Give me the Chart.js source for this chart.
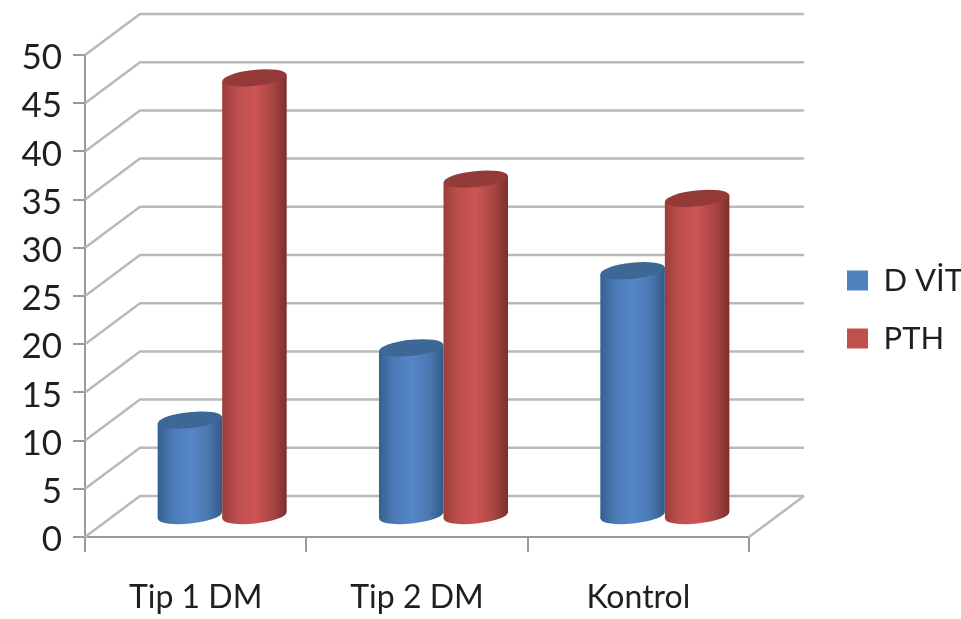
<!DOCTYPE html>
<html>
<head>
<meta charset="utf-8">
<title>D VİT / PTH</title>
<script src="https://cdn.jsdelivr.net/npm/chart.js@4"></script>
<style>
html, body { margin: 0; padding: 0; background: #fff; }
canvas { display: block; }
</style>
</head>
<body>
<canvas id="chart" width="961" height="619"></canvas>
<script>
const categories = ["Tip 1 DM", "Tip 2 DM", "Kontrol"];
const dVit = [10, 17.5, 25.5];
const pth = [45.5, 35, 33];

const GRID = "#b9b9b9";
const AXIS = "#9a9a9a";
const DEPTH_X = 55;
const DEPTH_Y = 41;
const TILT = 6 * Math.PI / 180;

const shades = {
    "D VİT": { side: ["#365f91", "#4a7ab5", "#5586c8", "#4a78b0", "#335a88"], top: "#3d6795" },
    "PTH": { side: ["#9c3d3b", "#bc4f4d", "#cd5553", "#a84543", "#7c2f2d"], top: "#943a38" }
};

// back wall, floor and the slanted lines that join them to the value axis
const wallsPlugin = {
    id: "walls",
    beforeDatasetsDraw(chart) {
        const { ctx, chartArea: a, scales: { y } } = chart;
        ctx.save();
        ctx.strokeStyle = GRID;
        ctx.lineWidth = 2.5;
        y.ticks.forEach(t => {
            const py = y.getPixelForValue(t.value);
            ctx.beginPath();
            ctx.moveTo(a.left, py);
            ctx.lineTo(a.left + DEPTH_X, py - DEPTH_Y);
            ctx.lineTo(a.right + DEPTH_X, py - DEPTH_Y);
            ctx.stroke();
        });
        const base = y.getPixelForValue(0);
        ctx.beginPath();
        ctx.moveTo(a.right + DEPTH_X, base - DEPTH_Y);
        ctx.lineTo(a.right, base);
        ctx.stroke();
        ctx.restore();
    }
};

function ellipsePath(ctx, x, y, rx) {
    ctx.ellipse(x, y, rx, 8, -TILT, 0, Math.PI * 2);
}

// bars are drawn as cylinders standing halfway into the floor
const cylinderPlugin = {
    id: "cylinders",
    beforeDatasetDraw(chart, args) {
        const { ctx } = chart;
        const colors = shades[chart.data.datasets[args.index].label];
        args.meta.data.forEach(bar => {
            const cx = bar.x + DEPTH_X / 2 - 1;
            const top = bar.y - DEPTH_Y / 2;
            const bottom = bar.base - DEPTH_Y / 2;
            const rx = bar.width / 2;
            const g = ctx.createLinearGradient(cx - rx, 0, cx + rx, 0);
            const stops = [0, 0.22, 0.5, 0.78, 1];
            stops.forEach((s, i) => g.addColorStop(s, colors.side[i]));

            const lift = rx * Math.sin(TILT);
            ctx.save();
            ctx.fillStyle = g;
            ctx.beginPath();
            ctx.moveTo(cx - rx, top + lift);
            ctx.lineTo(cx + rx, top - lift);
            ctx.lineTo(cx + rx, bottom - lift);
            ctx.lineTo(cx - rx, bottom + lift);
            ctx.closePath();
            ctx.fill();
            ctx.beginPath();
            ellipsePath(ctx, cx, bottom, rx);
            ctx.fill();
            ctx.fillStyle = colors.top;
            ctx.beginPath();
            ellipsePath(ctx, cx, top, rx);
            ctx.fill();
            ctx.restore();
        });
        return false;
    }
};

new Chart(document.getElementById("chart"), {
    type: "bar",
    data: {
        labels: categories,
        datasets: [
            { label: "D VİT", data: dVit, backgroundColor: "#4f81bd", borderWidth: 0, barPercentage: 1, categoryPercentage: 0.583 },
            { label: "PTH", data: pth, backgroundColor: "#c0504d", borderWidth: 0, barPercentage: 1, categoryPercentage: 0.583 }
        ]
    },
    plugins: [wallsPlugin, cylinderPlugin],
    options: {
        responsive: false,
        animation: false,
        layout: { padding: { top: 0, right: -12, bottom: 0, left: 0 } },
        plugins: {
            tooltip: { enabled: false },
            legend: {
                position: "right",
                labels: {
                    boxWidth: 21,
                    boxHeight: 20,
                    padding: 27,
                    color: "#1f1f1f",
                    font: { family: "Lato", size: 31 }
                }
            }
        },
        scales: {
            x: {
                afterFit: s => { s.height = 82; },
                border: { color: AXIS, width: 2 },
                grid: { color: AXIS, lineWidth: 2, drawOnChartArea: false, tickLength: 15 },
                ticks: { color: "#1f1f1f", padding: 26, maxRotation: 0, font: { family: "Lato", size: 32 } }
            },
            y: {
                min: 0,
                max: 50,
                afterFit: s => { s.width = 85; },
                border: { color: AXIS, width: 2 },
                grid: { color: AXIS, lineWidth: 2, drawOnChartArea: false, tickLength: 12 },
                ticks: { stepSize: 5, color: "#1f1f1f", padding: 11, labelOffset: 3, font: { family: "Lato", size: 35 } }
            },
            // empty axes, they only hold the space above the plot and beside the legend
            gap: {
                position: "right",
                afterFit: s => { s.width = 71; },
                border: { display: false },
                grid: { display: false },
                ticks: { display: false }
            },
            gapTop: {
                type: "linear",
                position: "top",
                afterFit: s => { s.height = 55; },
                border: { display: false },
                grid: { display: false },
                ticks: { display: false }
            }
        }
    }
});
</script>
</body>
</html>
